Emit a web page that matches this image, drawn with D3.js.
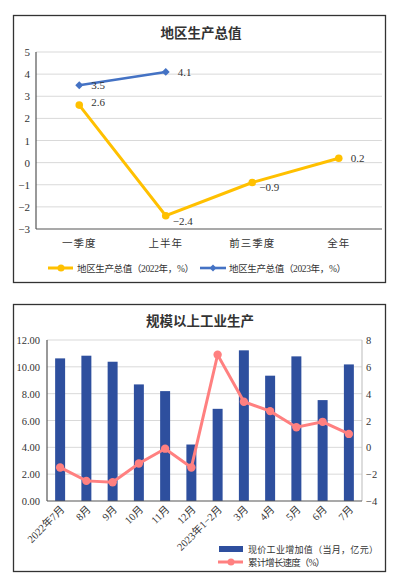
<!DOCTYPE html>
<html><head><meta charset="utf-8">
<script src="https://cdn.jsdelivr.net/npm/d3@7"></script>
<style>
body{margin:0;background:#fff;}
text{font-family:"Liberation Serif","Noto Sans CJK SC",serif;fill:#333;}
.cjk{font-family:"Noto Sans CJK SC",sans-serif;}
</style></head>
<body><svg id="c" width="397" height="577"></svg>
<script>
// ---- Chart 1 data ----
const gdpCats = ["一季度","上半年","前三季度","全年"];
const gdp2022 = [2.6,-2.4,-0.9,0.2];
const gdp2023 = [3.5,4.1];
const gdpTicks = [-3,-2,-1,0,1,2,3,4,5];
// ---- Chart 2 data ----
const indCats = ["2022年7月","8月","9月","10月","11月","12月","2023年1−2月","3月","4月","5月","6月","7月"];
const indValue = [10.63,10.83,10.38,8.69,8.19,4.21,6.87,11.23,9.34,10.78,7.52,10.18];
const indGrowth = [-1.5,-2.5,-2.6,-1.2,-0.1,-1.5,6.9,3.4,2.7,1.5,1.9,1.0];
const leftTicks = [0,2,4,6,8,10,12];
const rightTicks = [-4,-2,0,2,4,6,8];

const svg = d3.select("#c");
const fmtMinus = v => v < 0 ? "−" + Math.abs(v) : String(v);

// ===== Chart 1 =====
svg.append("rect").attr("x",13.5).attr("y",15.5).attr("width",372).attr("height",267)
  .attr("fill","#fff").attr("stroke","#333").attr("stroke-width",1.3);
svg.append("text").attr("class","cjk").attr("x",201).attr("y",38).attr("text-anchor","middle")
  .attr("font-size",13.5).attr("font-weight","bold").attr("fill","#222").text("地区生产总值");

const x1 = d3.scaleBand().domain(gdpCats).range([36,382]).padding(0);
const y1 = d3.scaleLinear().domain([-3,5]).range([229,52]);
const g1 = svg.append("g");
g1.selectAll(".grid").data(gdpTicks.filter(t=>t>-3)).join("line")
  .attr("x1",36).attr("x2",382).attr("y1",d=>y1(d)).attr("y2",d=>y1(d))
  .attr("stroke","#d9d9d9").attr("stroke-width",1);
g1.append("line").attr("x1",36).attr("x2",382).attr("y1",y1(-3)).attr("y2",y1(-3)).attr("stroke","#555").attr("stroke-width",1.2);
g1.append("line").attr("x1",36).attr("x2",36).attr("y1",y1(5)).attr("y2",y1(-3)).attr("stroke","#555").attr("stroke-width",1.2);
g1.selectAll(".yt").data(gdpTicks).join("text").attr("x",30).attr("y",d=>y1(d)+4)
  .attr("text-anchor","end").attr("font-size",11).text(d=>fmtMinus(d));
g1.selectAll(".xt").data(gdpCats).join("text").attr("class","cjk")
  .attr("x",d=>x1(d)+x1.bandwidth()/2).attr("y",247).attr("text-anchor","middle")
  .attr("font-size",10.5).attr("letter-spacing",1).attr("fill","#444").text(d=>d);
const cx1 = i => x1(gdpCats[i])+x1.bandwidth()/2;
const line1 = d3.line().x((d,i)=>cx1(i)).y(d=>y1(d));
g1.append("path").attr("d",line1(gdp2022)).attr("fill","none").attr("stroke","#FFC000").attr("stroke-width",3);
g1.selectAll(".m22").data(gdp2022).join("circle").attr("cx",(d,i)=>cx1(i)).attr("cy",d=>y1(d)).attr("r",3.8).attr("fill","#FFC000");
g1.append("path").attr("d",line1(gdp2023)).attr("fill","none").attr("stroke","#4472C4").attr("stroke-width",2.6);
g1.selectAll(".m23").data(gdp2023).join("path")
  .attr("d",d3.symbol(d3.symbolDiamond2,40)).attr("transform",(d,i)=>`translate(${cx1(i)},${y1(d)})`).attr("fill","#4472C4");
const lbl22dx=[12,7,7,12], lbl22dy=[-3,5,4,0];
g1.selectAll(".l22").data(gdp2022).join("text").attr("x",(d,i)=>cx1(i)+lbl22dx[i]).attr("y",(d,i)=>y1(d)+lbl22dy[i]+4)
  .attr("font-size",11).attr("fill","#222").text(d=>fmtMinus(d));
g1.selectAll(".l23").data(gdp2023).join("text").attr("x",(d,i)=>cx1(i)+12).attr("y",(d,i)=>y1(d)+4)
  .attr("font-size",11).attr("fill","#222").text(d=>fmtMinus(d));
// legend 1
const lg1 = svg.append("g");
lg1.append("line").attr("x1",48).attr("x2",73).attr("y1",268).attr("y2",268).attr("stroke","#FFC000").attr("stroke-width",3);
lg1.append("circle").attr("cx",61).attr("cy",268).attr("r",3.5).attr("fill","#FFC000");
lg1.append("text").attr("x",77).attr("y",271.5).attr("font-size",9.5).attr("fill","#444")
  .attr("textLength",117).attr("lengthAdjust","spacing").text("地区生产总值（2022年，%）");
lg1.append("line").attr("x1",200).attr("x2",226).attr("y1",268).attr("y2",268).attr("stroke","#4472C4").attr("stroke-width",2.6);
lg1.append("path").attr("d",d3.symbol(d3.symbolDiamond2,30)).attr("transform","translate(213,268)").attr("fill","#4472C4");
lg1.append("text").attr("x",229).attr("y",271.5).attr("font-size",9.5).attr("fill","#444")
  .attr("textLength",117).attr("lengthAdjust","spacing").text("地区生产总值（2023年，%）");

// ===== Chart 2 =====
svg.append("rect").attr("x",13.5).attr("y",304.5).attr("width",372).attr("height",267)
  .attr("fill","#fff").attr("stroke","#333").attr("stroke-width",1.3);
svg.append("text").attr("class","cjk").attr("x",200).attr("y",326).attr("text-anchor","middle")
  .attr("font-size",13.5).attr("font-weight","bold").attr("fill","#222").text("规模以上工业生产");

const x2 = d3.scaleBand().domain(indCats).range([47,362]).padding(0);
const yL = d3.scaleLinear().domain([0,12]).range([501,340]);
const yR = d3.scaleLinear().domain([-4,8]).range([501,340]);
const g2 = svg.append("g");
g2.selectAll(".grid").data(leftTicks.filter(t=>t>0)).join("line")
  .attr("x1",47).attr("x2",362).attr("y1",d=>yL(d)).attr("y2",d=>yL(d)).attr("stroke","#d9d9d9");
g2.append("line").attr("x1",362).attr("x2",362).attr("y1",340).attr("y2",501).attr("stroke","#bbb");
const bw = x2.bandwidth()*0.38;
g2.selectAll(".bar").data(indValue).join("rect")
  .attr("x",(d,i)=>x2(indCats[i])+x2.bandwidth()/2-bw/2).attr("width",bw)
  .attr("y",d=>yL(d)).attr("height",d=>yL(0)-yL(d)).attr("fill","#2E4F9E");
g2.append("line").attr("x1",47).attr("x2",362).attr("y1",501).attr("y2",501).attr("stroke","#555").attr("stroke-width",1.2);
g2.append("line").attr("x1",47).attr("x2",47).attr("y1",340).attr("y2",501).attr("stroke","#555").attr("stroke-width",1.2);
g2.selectAll(".yl").data(leftTicks).join("text").attr("x",40).attr("y",d=>yL(d)+4)
  .attr("text-anchor","end").attr("font-size",10.5).text(d=>d.toFixed(2));
g2.selectAll(".yr").data(rightTicks).join("text").attr("x",366).attr("y",d=>yR(d)+4)
  .attr("text-anchor","start").attr("font-size",10.5).text(d=>fmtMinus(d));
const cx2 = i => x2(indCats[i])+x2.bandwidth()/2;
g2.append("path").attr("d",d3.line().x((d,i)=>cx2(i)).y(d=>yR(d))(indGrowth))
  .attr("fill","none").attr("stroke","#FF8080").attr("stroke-width",3);
g2.selectAll(".pm").data(indGrowth).join("circle").attr("cx",(d,i)=>cx2(i)).attr("cy",d=>yR(d)).attr("r",4.2).attr("fill","#FF8080");
g2.selectAll(".xl").data(indCats).join("text")
  .attr("transform",(d,i)=>`translate(${cx2(i)+5},${510}) rotate(-45)`)
  .attr("text-anchor","end").attr("font-size",10.5).attr("fill","#444").text(d=>d);
// legend 2
const lg2 = svg.append("g");
lg2.append("rect").attr("x",219).attr("y",546).attr("width",24).attr("height",6).attr("fill","#2E4F9E");
lg2.append("text").attr("class","cjk").attr("x",248).attr("y",552.5).attr("font-size",9).attr("fill","#444")
  .attr("textLength",130).attr("lengthAdjust","spacing").text("现价工业增加值（当月，亿元）");
lg2.append("line").attr("x1",218).attr("x2",243).attr("y1",562).attr("y2",562).attr("stroke","#FF8080").attr("stroke-width",3);
lg2.append("circle").attr("cx",231).attr("cy",562).attr("r",3.5).attr("fill","#FF8080");
lg2.append("text").attr("x",248).attr("y",565.5).attr("font-size",9.5).attr("fill","#444")
  .attr("textLength",77).attr("lengthAdjust","spacing").text("累计增长速度（%）");
</script></body></html>
